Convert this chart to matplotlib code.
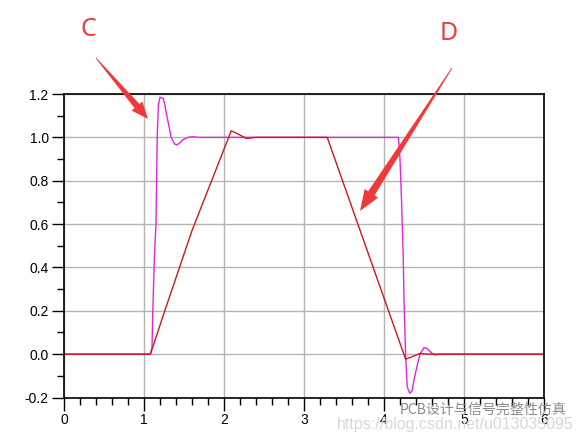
import matplotlib
matplotlib.use("Agg")
import matplotlib.pyplot as plt
from matplotlib.patches import Polygon
from matplotlib.ticker import MultipleLocator
import numpy as np

# ---- data ----
t_fast = [0, 1.08, 1.10, 1.11, 1.13, 1.15, 1.165, 1.18, 1.20, 1.24, 1.26, 1.28, 1.34, 1.38, 1.41,
          1.45, 1.49, 1.55, 1.60, 1.70, 4.18, 4.20, 4.22, 4.24, 4.25, 4.27, 4.29, 4.32, 4.35, 4.38,
          4.41, 4.45, 4.50, 4.54, 4.60, 4.64, 4.70, 6.0]
v_fast = [0, 0, 0.03, 0.2, 0.45, 0.6, 1.0, 1.15, 1.185, 1.18, 1.15, 1.11, 1.0, 0.97, 0.965,
          0.975, 0.99, 1.0, 1.003, 1.0, 1.0, 0.9, 0.7, 0.45, 0.25, 0.0, -0.15, -0.18, -0.17, -0.11,
          -0.06, 0.0, 0.03, 0.025, 0.004, -0.004, 0.0, 0.0]

t_slow = [0, 1.08, 1.26, 1.60, 2.09, 2.15, 2.28, 2.40, 3.29, 4.27, 4.35, 4.45, 4.55, 6.0]
v_slow = [0, 0, 0.2, 0.57, 1.03, 1.02, 0.995, 1.0, 1.0, -0.023, -0.012, 0.003, 0.0, 0.0]

x_ticks = [0, 1, 2, 3, 4, 5, 6]
y_ticks = [-0.2, 0.0, 0.2, 0.4, 0.6, 0.8, 1.0, 1.2]

W, H = 580, 443
fig = plt.figure(figsize=(W / 100, H / 100), dpi=100)
plt.rcParams['font.family'] = ['Liberation Sans', 'DejaVu Sans']

ax = fig.add_axes([64 / W, 1 - 397.5 / H, (544 - 64) / W, (397.5 - 94) / H])
ax.set_xlim(0, 6)
ax.set_ylim(-0.2, 1.2)
ax.set_xticks(x_ticks)
ax.set_yticks(y_ticks)
ax.set_xticklabels([str(v) for v in x_ticks])
ax.set_yticklabels([f"{v:.1f}" for v in y_ticks])
ax.xaxis.set_minor_locator(MultipleLocator(0.2))
ax.yaxis.set_minor_locator(MultipleLocator(0.1))
ax.tick_params(which='major', direction='out', length=9, width=1, labelsize=10, pad=2, color='black')
ax.tick_params(which='minor', direction='out', length=5, width=1, color='black')
ax.grid(True, which='major', color='#b4b4b4', linewidth=1)
ax.set_axisbelow(True)
for s in ax.spines.values():
    s.set_linewidth(1.2)
    s.set_color('black')

ax.plot(t_fast, v_fast, color='#e026e0', linewidth=1.0)
ax.plot(t_slow, v_slow, color='#d01818', linewidth=1.0)


def arrow(tail, tip, L, Wh, w):
    T = np.array(tail, float)
    Hd = np.array(tip, float)
    d = (Hd - T) / np.linalg.norm(Hd - T)
    n = np.array([-d[1], d[0]])
    B = Hd - d * L
    pts = [T + n * 0.4, B + n * w, B + n * Wh, Hd, B - n * Wh, B - n * w, T - n * 0.4]
    pts = [(p[0] / W, 1 - p[1] / H) for p in pts]
    fig.add_artist(Polygon(pts, closed=True, transform=fig.transFigure,
                           facecolor='#f03a3a', edgecolor='none'))


arrow((96, 58), (148, 119), 17, 7, 3.2)
arrow((452, 68), (360, 211), 21, 8, 3.8)

fig.text(88 / W, 1 - 30 / H, 'C', color='#e8403e', fontsize=18, ha='center', va='center',
         family=['Noto Sans', 'DejaVu Sans'])
fig.text(449 / W, 1 - 33 / H, 'D', color='#e8403e', fontsize=18, ha='center', va='center',
         family=['Noto Sans', 'DejaVu Sans'])

fig.text(337 / W, 1 - 425 / H, 'https://blog.csdn.net/u013035095', color='#d8d8d8',
         fontsize=11.5, ha='left', va='center')
fig.text(400 / W, 1 - 410 / H, 'PCB设计与信号完整性仿真', color='#8a8a8a',
         fontsize=10.1, ha='left', va='center', family=['Noto Sans CJK SC', 'DejaVu Sans'])

fig.savefig('out.png', dpi=100, facecolor='white')
